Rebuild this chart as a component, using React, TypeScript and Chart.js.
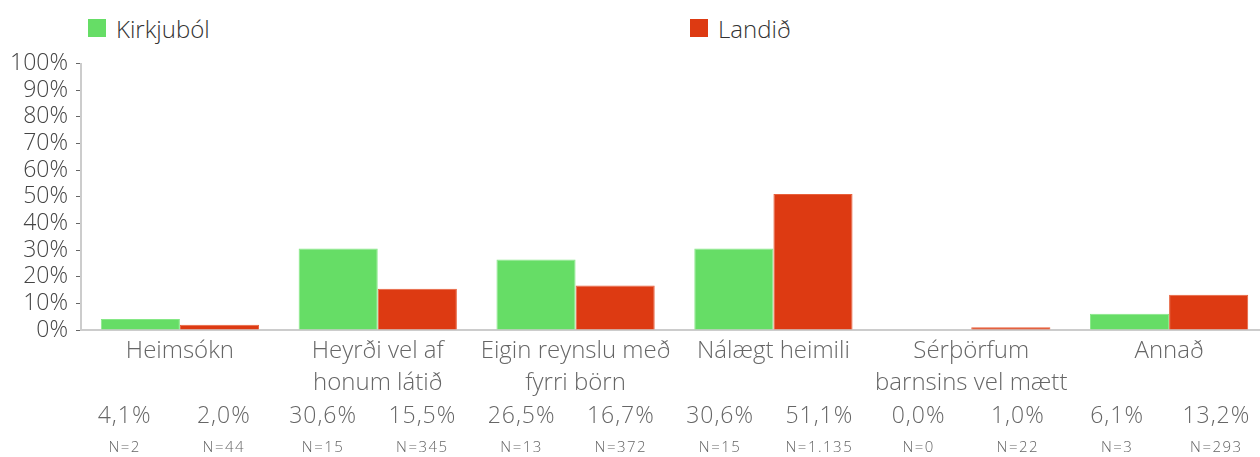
import React, { useEffect, useRef } from "react";
import { Chart, registerables } from "chart.js";

Chart.register(...registerables);

const categories: string[][] = [
  ["Heimsókn"],
  ["Heyrði vel af", "honum látið"],
  ["Eigin reynslu með", "fyrri börn"],
  ["Nálægt heimili"],
  ["Sérþörfum", "barnsins vel mætt"],
  ["Annað"],
];
const seriesNames = ["Kirkjuból", "Landið"];
const kirkjubolPct = [4.1, 30.6, 26.5, 30.6, 0.0, 6.1];
const landidPct = [2.0, 15.5, 16.7, 51.1, 1.0, 13.2];
const kirkjubolN = [2, 15, 13, 15, 0, 3];
const landidN = [44, 345, 372, 1135, 22, 293];
const yMax = 100;
const yStep = 10;

const GREEN = "#66dd66";
const GREEN_EDGE = "#86e886";
const RED = "#dd3a12";
const RED_EDGE = "#e8603c";
const FONT = "'Open Sans', 'Lato', sans-serif";

const fmtPct = (v: number) => v.toFixed(1).replace(".", ",") + "%";
const fmtN = (n: number) =>
  "N=" + String(n).replace(/\B(?=(\d{3})+(?!\d))/g, ".");

export default function App() {
  const ref = useRef<HTMLCanvasElement>(null);

  useEffect(() => {
    const chart = new Chart(ref.current!, {
      type: "bar",
      data: {
        labels: categories,
        datasets: [
          {
            label: seriesNames[0],
            data: kirkjubolPct,
            backgroundColor: GREEN,
            borderColor: GREEN_EDGE,
            borderWidth: 1,
            categoryPercentage: 0.8,
            barPercentage: 1,
          },
          {
            label: seriesNames[1],
            data: landidPct,
            backgroundColor: RED,
            borderColor: RED_EDGE,
            borderWidth: 1,
            categoryPercentage: 0.8,
            barPercentage: 1,
          },
        ],
      },
      options: {
        animation: false,
        responsive: true,
        maintainAspectRatio: false,
        layout: { padding: { top: 0, right: 0, bottom: 0, left: 0 } },
        plugins: {
          legend: { display: false },
          tooltip: { enabled: false },
        },
        scales: {
          x: {
            grid: { display: false, drawTicks: false },
            border: { display: true, color: "#cccccc", width: 2 },
            ticks: {
              autoSkip: false,
              maxRotation: 0,
              minRotation: 0,
              padding: 5,
              color: "#666666",
              font: { family: FONT, size: 24, weight: 300, lineHeight: "32px" },
            },
          },
          y: {
            min: 0,
            max: yMax,
            grid: {
              drawOnChartArea: false,
              drawTicks: true,
              tickLength: 5,
              color: "#666666",
              lineWidth: 1,
            },
            border: { display: true, color: "#cccccc", width: 2 },
            ticks: {
              autoSkip: false,
              stepSize: yStep,
              padding: 8,
              color: "#444444",
              font: { family: FONT, size: 23, weight: 300, lineHeight: 1.1 },
              callback: (v: any) => v + "%",
            },
            afterFit: (s: any) => {
              s.width = 81;
            },
          },
        },
      },
    });
    return () => chart.destroy();
  }, []);

  const cells: { pct: string; n: string }[] = [];
  categories.forEach((_, i) => {
    cells.push({ pct: fmtPct(kirkjubolPct[i]), n: fmtN(kirkjubolN[i]) });
    cells.push({ pct: fmtPct(landidPct[i]), n: fmtN(landidN[i]) });
  });

  const legendItem = (name: string, color: string, left: number) => (
    <div
      key={name}
      style={{
        position: "absolute",
        left,
        top: 10,
        height: 36,
        display: "flex",
        alignItems: "center",
      }}
    >
      <div style={{ width: 18, height: 18, background: color, marginRight: 10 }} />
      <span style={{ fontFamily: FONT, fontSize: 24, fontWeight: 300, color: "#333" }}>{name}</span>
    </div>
  );

  return (
    <div
      style={{
        position: "fixed",
        left: 0,
        top: 0,
        width: 1260,
        height: 457,
        overflow: "hidden",
        background: "#fff",
      }}
    >
      {legendItem(seriesNames[0], GREEN, 88)}
      {legendItem(seriesNames[1], RED, 690)}
      <div style={{ position: "absolute", left: 0, top: 43, width: 1268, height: 361 }}>
        <canvas ref={ref} />
      </div>
      <div
        style={{
          position: "absolute",
          left: 75,
          top: 400,
          width: 1191,
          display: "grid",
          gridTemplateColumns: "repeat(12, 1fr)",
          fontFamily: FONT,
          fontWeight: 300,
          color: "#666",
          textAlign: "center",
        }}
      >
        {cells.map((c, i) => (
          <div key={"p" + i} style={{ fontSize: 23, letterSpacing: "1px", lineHeight: "28px", height: 36 }}>
            {c.pct}
          </div>
        ))}
        {cells.map((c, i) => (
          <div key={"n" + i} style={{ fontSize: 15, letterSpacing: "1.5px", lineHeight: "20px" }}>
            {c.n}
          </div>
        ))}
      </div>
    </div>
  );
}
